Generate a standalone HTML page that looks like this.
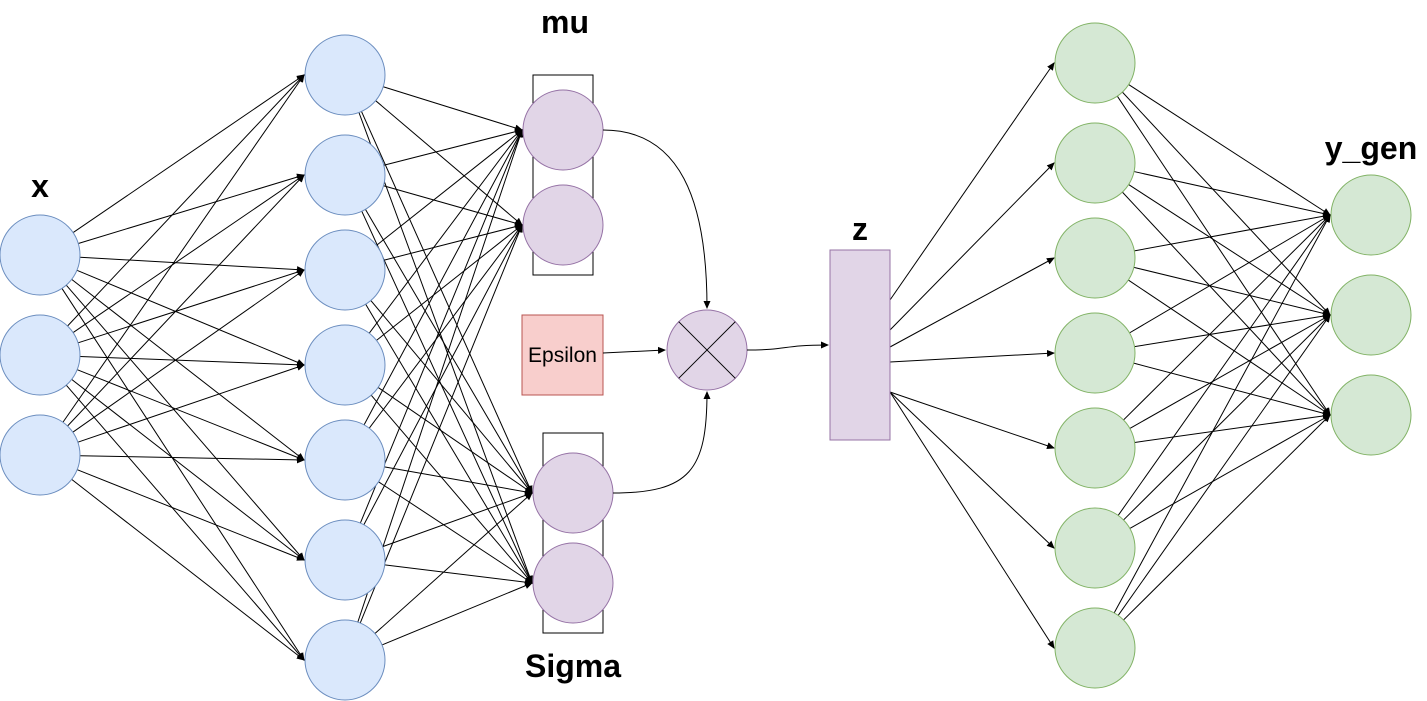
<!DOCTYPE html>
<html><head><meta charset="utf-8"><style>
html,body{margin:0;padding:0;background:#fff;}
svg{display:block;font-family:"Liberation Sans",sans-serif;}
</style></head><body>
<svg id="s" width="1427" height="701" viewBox="0 0 1427 701">
<defs><marker id="ar" markerWidth="8" markerHeight="8" refX="7" refY="4" orient="auto" markerUnits="userSpaceOnUse"><path d="M0,0.5 L8,4 L0,7.5 Z" fill="#000"/></marker></defs>
<rect x="533" y="75" width="60" height="200" fill="none" stroke="#000"/>
<rect x="543" y="433" width="60" height="200" fill="none" stroke="#000"/>
<g id="edges"></g>
<g id="nodes"></g>
<rect x="522" y="315" width="81" height="80" fill="#f8cecc" stroke="#b85450"/>
<text x="562.5" y="362" font-size="21" text-anchor="middle">Epsilon</text>
<rect x="830" y="250" width="60" height="190" fill="#e1d5e7" stroke="#9673a6"/>
<g>
<circle cx="707" cy="350" r="40" fill="#e1d5e7" stroke="#9673a6"/>
<line x1="678.7" y1="321.7" x2="735.3" y2="378.3" stroke="#000"/>
<line x1="735.3" y1="321.7" x2="678.7" y2="378.3" stroke="#000"/>
</g>
<path d="M603,130 C680,130 707,200 707,308" fill="none" stroke="#000" marker-end="url(#ar)"/>
<path d="M613,493 C690,493 707,470 707,392" fill="none" stroke="#000" marker-end="url(#ar)"/>
<line x1="603" y1="353" x2="665" y2="350" stroke="#000" marker-end="url(#ar)"/>
<path d="M747,350 C790,350 780,345 828,345" fill="none" stroke="#000" marker-end="url(#ar)"/>
<g font-weight="bold" font-size="32" text-anchor="middle">
<text x="40" y="197">x</text>
<text x="565" y="33">mu</text>
<text x="573" y="677">Sigma</text>
<text x="860" y="240">z</text>
<text x="1371" y="159">y_gen</text>
</g>
</svg>
<script>
const xNodes=[[40,255],[40,355],[40,455]];
const h1Nodes=[[345,75],[345,175],[345,270],[345,365],[345,460],[345,560],[345,660]];
const latNodes=[[563,130],[563,225],[573,493],[573,583]];
const zOut=[[890,300],[890,330],[890,347],[890,362],[890,392],[890,392],[890,392]];
const gNodes=[[1095,63],[1095,163],[1095,258],[1095,353],[1095,448],[1095,548],[1095,648]];
const oNodes=[[1371,215],[1371,315],[1371,415]];
const NS="http://www.w3.org/2000/svg";
const E=document.getElementById('edges'),N=document.getElementById('nodes');
const R=40;
function edge(a,b,startR,name){
  const ex=b[0]-R+1,ey=b[1];
  const dx=ex-a[0],dy=ey-a[1],d=Math.hypot(dx,dy);
  const l=document.createElementNS(NS,'line');
  l.setAttribute('x1',a[0]+dx/d*startR);l.setAttribute('y1',a[1]+dy/d*startR);
  l.setAttribute('x2',ex-2);l.setAttribute('y2',ey);
  l.setAttribute('stroke','#000');l.setAttribute('marker-end','url(#ar)');
  
  
  E.appendChild(l);
}
xNodes.forEach(a=>h1Nodes.forEach(b=>edge(a,b,R,'x-to-hidden-edge')));
h1Nodes.forEach(a=>latNodes.forEach(b=>edge(a,b,R,'hidden-to-latent-edge')));
gNodes.forEach((b,i)=>edge(zOut[i],b,0,'z-to-decoder-edge'));
gNodes.forEach(a=>oNodes.forEach(b=>edge(a,b,R,'decoder-to-output-edge')));
function circ(p,fill,stroke,name){
  const c=document.createElementNS(NS,'circle');
  c.setAttribute('cx',p[0]);c.setAttribute('cy',p[1]);c.setAttribute('r',R);
  c.setAttribute('fill',fill);c.setAttribute('stroke',stroke);
  
  
  N.appendChild(c);
}
xNodes.forEach(p=>circ(p,'#dae8fc','#6c8ebf','input-node'));
h1Nodes.forEach(p=>circ(p,'#dae8fc','#6c8ebf','hidden-node'));
latNodes.forEach(p=>circ(p,'#e1d5e7','#9673a6','latent-node'));
gNodes.forEach(p=>circ(p,'#d5e8d4','#82b366','decoder-node'));
oNodes.forEach(p=>circ(p,'#d5e8d4','#82b366','output-node'));
</script>
</body></html>
